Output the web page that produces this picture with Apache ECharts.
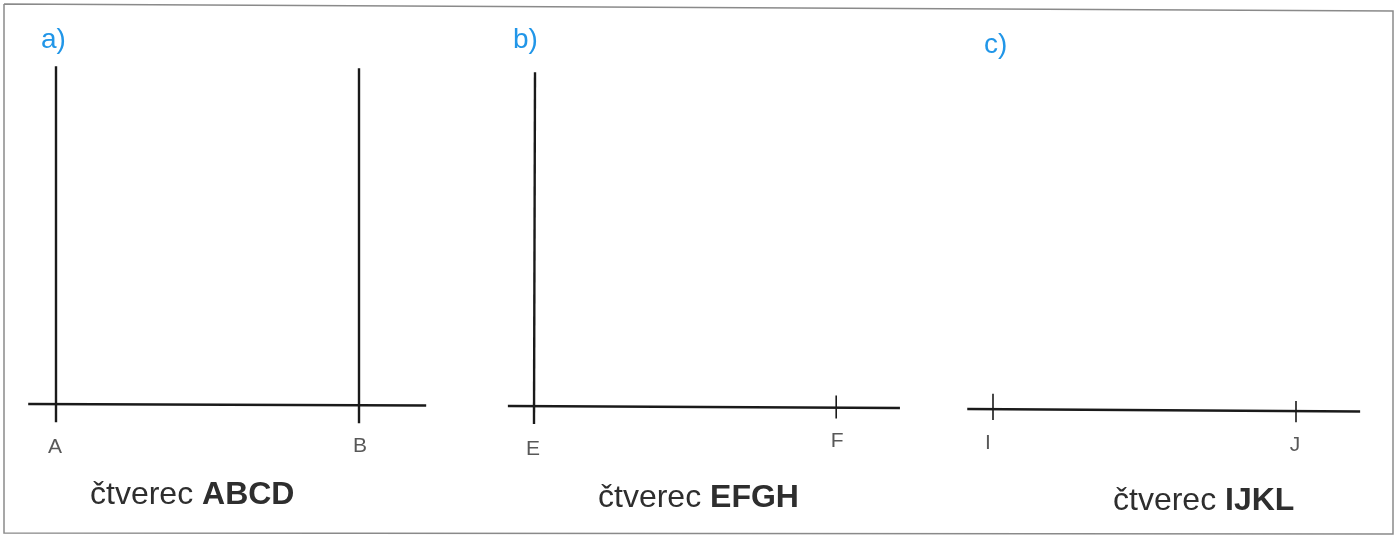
<!DOCTYPE html>
<html>
<head>
<meta charset="utf-8">
<title>čtverec</title>
<script src="https://cdn.jsdelivr.net/npm/echarts@6/dist/echarts.min.js"></script>
<style>
	html, body { margin: 0; padding: 0; background: #fff; }
	#main { width: 1400px; height: 538px; }
</style>
</head>
<body>
<div id="main"></div>
<script>
// jednotky: delka usecky AB = 6
// a) ctverec ABCD
const baseLineA = [[-0.55, 0], [7.33, -0.03]]
const sideLineA = [[0, -0.36], [0, 6.69]]
const sideLineB = [[6, -0.38], [6, 6.65]]
const pointNamesA = ['A', 'B']
const pointXA = [0, 6]

// b) ctverec EFGH
const baseLineE = [[-0.54, 0], [7.27, -0.04]]
const sideLineE = [[-0.02, -0.36], [0, 6.65]]
const tickF = [[6, 0.21], [6, -0.25]]
const pointNamesE = ['E', 'F']
const pointXE = [0, 6]

// c) ctverec IJKL
const baseLineI = [[-0.51, 0], [7.27, -0.05]]
const tickI = [[0, 0.3], [0, -0.22]]
const tickJ = [[6, 0.16], [6, -0.26]]
const pointNamesI = ['I', 'J']
const pointXI = [0, 6]

const panelLetters = ['a)', 'b)', 'c)']
const captionWord = 'čtverec'
const captionNames = ['ABCD', 'EFGH', 'IJKL']

// styl / rozlozeni
const FONT = '"Liberation Sans", Arial, Helvetica, sans-serif'
const INK = '#1a1a1a'
const TEXT = '#2e2e2e'
const BLUE = '#2196e8'
// pocatek (bod 0,0) kazdeho panelu v px a meritko px/jednotka
const panels = [
	{ ox: 56, oy: 404, s: 50.5 },
	{ ox: 535, oy: 406, s: 50.2 },
	{ ox: 993, oy: 409, s: 50.5 }
]
const X_MIN = -0.7, X_MAX = 7.5, Y_MIN = -1.2, Y_MAX = 7
const labelOffsets = [
	[[-1, 43], [1, 42]],
	[[-2, 43], [1, 35]],
	[[-5, 34], [-1, 36]]
]
const letterPos = [[41, 26], [513, 26], [984, 31]]
const captionPos = [[90, 479], [598, 482], [1113, 485]]

function grid (p) {
	return {
		left: p.ox + X_MIN * p.s,
		top: p.oy - Y_MAX * p.s,
		width: (X_MAX - X_MIN) * p.s,
		height: (Y_MAX - Y_MIN) * p.s
	}
}

function axisX (i) {
	return { type: 'value', gridIndex: i, min: X_MIN, max: X_MAX, show: false }
}
function axisY (i) {
	return { type: 'value', gridIndex: i, min: Y_MIN, max: Y_MAX, show: false }
}

function segment (i, pts, w) {
	return {
		type: 'line',
		xAxisIndex: i,
		yAxisIndex: i,
		data: pts,
		showSymbol: false,
		symbol: 'none',
		silent: true,
		lineStyle: { color: INK, width: w }
	}
}

function pointLabels (i, names, xs) {
	return {
		type: 'scatter',
		xAxisIndex: i,
		yAxisIndex: i,
		symbolSize: 0,
		silent: true,
		data: names.map((n, k) => ({
			name: n,
			value: [xs[k], 0],
			label: { offset: labelOffsets[i][k] }
		})),
		label: {
			show: true,
			position: 'inside',
			formatter: '{b}',
			color: TEXT,
			fontFamily: FONT,
			fontSize: 21
		}
	}
}

const titles = []
panelLetters.forEach((t, i) => {
	titles.push({
		text: t,
		left: letterPos[i][0],
		top: letterPos[i][1],
		padding: 0,
		textStyle: { color: BLUE, fontFamily: FONT, fontSize: 28, fontWeight: 'normal' }
	})
})
captionNames.forEach((n, i) => {
	titles.push({
		text: '{n|' + captionWord + ' }{b|' + n + '}',
		left: captionPos[i][0],
		top: captionPos[i][1],
		padding: 0,
		textStyle: {
			rich: {
				n: { color: TEXT, fontFamily: FONT, fontSize: 32, fontWeight: 'normal' },
				b: { color: TEXT, fontFamily: FONT, fontSize: 32, fontWeight: 'bold' }
			}
		}
	})
})

const option = {
	backgroundColor: '#fff',
	animation: false,
	title: titles,
	grid: panels.map(grid),
	xAxis: [0, 1, 2].map(axisX),
	yAxis: [0, 1, 2].map(axisY),
	graphic: [{
		type: 'polyline',
		silent: true,
		shape: { points: [[4, 4], [1393, 11], [1393, 534], [4, 533], [4, 4]] },
		style: { stroke: '#8a8a8a', lineWidth: 1.5, fill: null }
	}],
	series: [
		segment(0, baseLineA, 2.4),
		segment(0, sideLineA, 2.4),
		segment(0, sideLineB, 2.4),
		pointLabels(0, pointNamesA, pointXA),

		segment(1, baseLineE, 2.4),
		segment(1, sideLineE, 2.4),
		segment(1, tickF, 1.6),
		pointLabels(1, pointNamesE, pointXE),

		segment(2, baseLineI, 2.4),
		segment(2, tickI, 1.6),
		segment(2, tickJ, 1.6),
		pointLabels(2, pointNamesI, pointXI)
	]
}

const chart = echarts.init(document.getElementById('main'))
chart.setOption(option)
window.addEventListener('resize', chart.resize)
</script>
</body>
</html>
